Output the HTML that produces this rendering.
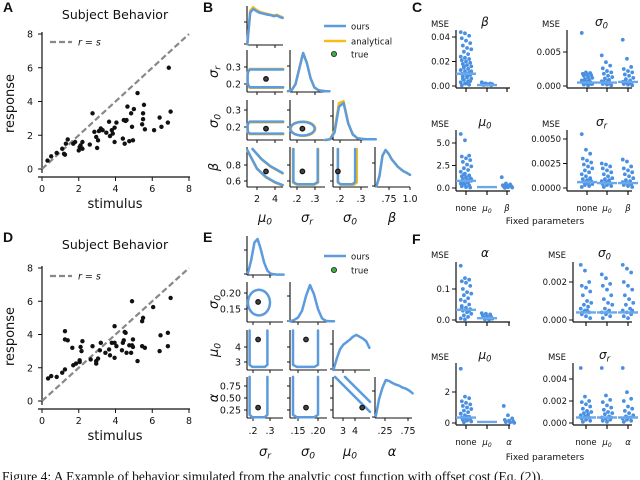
<!DOCTYPE html>
<html><head><meta charset="utf-8"><style>
html,body{margin:0;padding:0;background:#fff;width:640px;height:480px;overflow:hidden}
svg{display:block;font-family:"DejaVu Sans","Liberation Sans",sans-serif}
</style></head><body>
<svg id="fig" width="640" height="480" viewBox="0 0 640 480"></svg>
<script>
// ---------- DATA ----------
const stimA=[0.3,0.5,0.8,1.1,1.2,1.25,1.3,1.4,1.7,1.8,2.0,2.05,2.1,2.2,2.2,2.6,2.75,2.85,2.95,3.0,3.05,3.1,3.2,3.3,3.5,3.65,3.7,3.8,3.85,3.95,3.95,4.05,4.4,4.45,4.5,4.55,4.6,4.65,4.75,4.85,4.9,4.95,5.0,5.2,5.45,5.5,5.5,5.55,5.6,6.1,6.4,6.5,6.85,6.9,7.0];
const respA=[0.5,0.75,0.95,1.2,0.9,0.85,1.5,1.75,1.5,1.6,1.1,1.3,1.4,1.6,1.2,1.45,3.3,2.2,1.9,1.25,1.7,2.25,2.4,2.3,2.15,2.8,1.95,2.3,2.1,1.6,2.45,2.75,1.8,2.9,1.5,2.85,2.9,3.7,1.65,3.3,2.5,1.7,3.55,4.5,2.65,2.95,3.3,3.8,2.35,2.3,3.05,2.5,2.75,6.0,3.4];
const stimD=[0.33,0.5,0.8,1.1,1.25,1.25,1.25,1.4,1.65,1.7,1.85,2.05,2.1,2.15,2.2,2.05,2.65,2.75,2.95,2.95,3.05,3.15,3.2,3.45,3.65,3.7,3.8,3.95,3.95,3.95,4.05,4.35,4.4,4.45,4.5,4.55,4.6,4.75,4.85,4.9,4.9,4.95,4.95,5.2,5.45,5.5,5.45,5.6,6.05,6.4,6.45,6.85,6.85,7.0];
const respD=[1.36,1.5,1.45,1.7,1.9,4.2,3.7,3.65,3.2,2.15,2.25,2.45,3.25,3.0,3.6,2.35,2.5,3.3,2.25,2.4,2.55,3.05,3.5,2.9,3.1,2.75,3.5,3.5,4.5,2.6,3.3,3.05,3.5,3.65,4.15,4.1,2.9,3.35,2.9,6.0,3.35,3.7,3.25,2.4,4.8,5.0,3.3,3.2,5.65,3.0,3.95,4.1,3.3,6.2];
const scatTicks=[0,2,4,6,8];

const dMu0B=[0.02,0.9,1.0,0.95,0.9,0.88,0.86,0.84,0.83,0.8,0.82,0.78,0.75];
const dMu0Bana=[0.02,0.95,1.05,0.98,0.93,0.9,0.88,0.86,0.84,0.82,0.84,0.8,0.77];
const dSrB=[0.02,0.05,0.2,0.6,1.0,0.75,0.35,0.12,0.05,0.03,0.02,0.02];
const dS0B=[0,0.02,0.2,0.9,1.0,0.45,0.15,0.05,0.03,0.02,0.02,0.02];
const dS0Bana=[0,0.02,0.25,1.0,1.05,0.45,0.14,0.05,0.03,0.02,0.02,0.02];
const dBetaB=[0.02,0.3,0.85,1.0,0.9,0.75,0.65,0.55,0.48,0.42,0.38,0.33];
const dSrE=[0.05,0.4,0.9,1.0,0.7,0.35,0.12,0.04,0.02,0.01,0.01,0.01];
const dS0E=[0.02,0.05,0.12,0.3,0.7,1.0,0.75,0.35,0.1,0.03,0.02,0.02];
const dMu0E=[0,0.3,0.55,0.68,0.75,0.82,0.9,0.95,0.9,0.85,0.78,0.6];
const dAlE=[0.05,0.5,0.8,1.0,0.97,0.92,0.88,0.85,0.8,0.77,0.72,0.65];

const cBetaNone=[0.044,0.043,0.041,0.039,0.037,0.035,0.033,0.031,0.030,0.028,0.026,0.024,0.023,0.022,0.021,0.020,0.019,0.018,0.017,0.016,0.015,0.014,0.013,0.012,0.011,0.010,0.010,0.009,0.008,0.007,0.006,0.005,0.004,0.003,0.002,0.001,0.0005,0.002,0.004,0.006,0.008,0.012,0.016];
const cBetaMu0=[0.003,0.002,0.002,0.001,0.001,0.0005,0.0008,0.0012,0.0015,0.002];
const cBetaMed=[0.010,0.0008];
const cS0None=[0.0078,0.002,0.0019,0.0018,0.0017,0.0016,0.0015,0.0013,0.0012,0.001,0.0009,0.0008,0.0007,0.0006,0.0005,0.0004,0.0003,0.0002,0.0001,0.0003,0.0006,0.0008];
const cS0Mu0=[0.0045,0.0035,0.003,0.0026,0.0022,0.002,0.0018,0.0015,0.0013,0.0011,0.0009,0.0007,0.0005,0.0004,0.0003,0.0002,0.0001,0.0006,0.0008];
const cS0Beta=[0.0068,0.004,0.0028,0.0025,0.0022,0.002,0.0017,0.0015,0.0012,0.001,0.0008,0.0006,0.0005,0.0004,0.0003,0.0002,0.0001,0.0007];
const cS0Med=[0.0005,0.0005,0.0006];
const cMu0None=[6.0,5.3,3.6,3.5,3.3,3.1,2.9,2.6,2.4,2.2,2.0,1.8,1.6,1.4,1.3,1.2,1.1,1.0,0.9,0.8,0.7,0.6,0.5,0.4,0.3,0.2,0.1,0.05,0.5,0.8,1.0,1.5];
const cMu0Beta=[1.2,0.5,0.4,0.3,0.25,0.2,0.15,0.1,0.05,0.02];
const cMu0Med=[0.8,0.1];
const cSrNone=[0.0055,0.0039,0.0035,0.003,0.0028,0.0026,0.0024,0.0022,0.002,0.0018,0.0016,0.0014,0.0012,0.001,0.0009,0.0008,0.0007,0.0006,0.0005,0.0004,0.0003,0.0002,0.0001,0.0006,0.0009];
const cSrMu0=[0.0025,0.0024,0.0022,0.002,0.0018,0.0016,0.0014,0.0012,0.001,0.0009,0.0008,0.0007,0.0006,0.0005,0.0004,0.0003,0.0002,0.0001,0.0006];
const cSrBeta=[0.0029,0.0027,0.0022,0.002,0.0018,0.0016,0.0014,0.0012,0.001,0.0008,0.0007,0.0006,0.0005,0.0004,0.0003,0.0002,0.0001];
const cSrMed=[0.0006,0.0005,0.0005];
const fAlNone=[0.175,0.135,0.13,0.125,0.12,0.11,0.1,0.09,0.085,0.08,0.07,0.065,0.06,0.05,0.045,0.04,0.035,0.03,0.025,0.02,0.015,0.01,0.005,0.002,0.03,0.04];
const fAlMu0=[0.022,0.02,0.018,0.015,0.012,0.01,0.008,0.006,0.004,0.002,0.001];
const fAlMed=[0.033,0.006];
const fS0None=[0.0029,0.0026,0.002,0.0018,0.0017,0.0015,0.0013,0.001,0.0009,0.0008,0.0007,0.0006,0.0005,0.0004,0.0003,0.0002,0.0001,0.0004,0.0005];
const fS0Mu0=[0.0024,0.0022,0.0019,0.0018,0.0016,0.0013,0.0011,0.0009,0.0008,0.0006,0.0005,0.0004,0.0003,0.0002,0.0001,0.0004];
const fS0Al=[0.0029,0.0027,0.0025,0.002,0.0018,0.0016,0.0013,0.0011,0.0009,0.0008,0.0006,0.0005,0.0004,0.0003,0.0002,0.0001,0.0005];
const fS0Med=[0.0004,0.0004,0.0004];
const fMu0None=[3.5,1.7,1.6,1.4,1.3,1.2,1.1,1.0,0.9,0.8,0.7,0.6,0.5,0.4,0.35,0.3,0.25,0.2,0.15,0.1,0.05,0.4,0.6];
const fMu0Al=[1.1,0.5,0.3,0.2,0.15,0.1,0.06,0.03,0.01];
const fMu0Med=[0.35,0.07];
const fSrNone=[0.005,0.0024,0.002,0.0019,0.0017,0.0015,0.0013,0.0011,0.001,0.0009,0.0008,0.0007,0.0006,0.0005,0.0004,0.0003,0.0002,0.0001,0.0005];
const fSrMu0=[0.005,0.0025,0.0021,0.0019,0.0016,0.0014,0.0012,0.001,0.0009,0.0008,0.0006,0.0005,0.0004,0.0003,0.0002,0.0001,0.0005];
const fSrAl=[0.005,0.0028,0.0022,0.002,0.0015,0.0013,0.0011,0.0009,0.0007,0.0006,0.0005,0.0004,0.0003,0.0002,0.0001,0.0005];
const fSrMed=[0.0005,0.0005,0.0005];

// ---------- HELPERS ----------
const svg=document.getElementById('fig');
const NS='http://www.w3.org/2000/svg';
const BLUE='#5b9bde', YEL='#f6bd1a';
function el(tag,attrs,parent){const e=document.createElementNS(NS,tag);for(const k in attrs)e.setAttribute(k,attrs[k]);(parent||svg).appendChild(e);return e;}
function lin(d0,d1,p0,p1){return v=>p0+(v-d0)*(p1-p0)/(d1-d0);}
function txt(x,y,s,size,opts){opts=opts||{};const t=el('text',{x:x,y:y,'font-size':size,'text-anchor':opts.anchor||'middle',fill:'#111'});
 if(opts.italic)t.setAttribute('font-style','italic');if(opts.bold)t.setAttribute('font-weight','bold');if(opts.family)t.setAttribute('font-family',opts.family);
 if(opts.rot)t.setAttribute('transform','rotate(-90 '+x+' '+y+')');t.innerHTML=s;return t;}
function line(x1,y1,x2,y2,w,c){return el('line',{x1:x1,y1:y1,x2:x2,y2:y2,stroke:c||'#111','stroke-width':w||1});}
function sym(s,sub){return sub?s+'<tspan font-size="0.7em" dy="0.3em">'+sub+'</tspan>':s;}

// ---------- SCATTER PANELS ----------
function scatter(prefix,letter,top,y0,y8,xs,ys){
 const sx=lin(0,8,42,189), sy=lin(0,8,y0,y8);
 const g=el('g',{});
 
 
 const L=txt(3,top+12,letter,14,{anchor:'start',bold:true,family:'"Liberation Sans",sans-serif'});
 
 const T=txt(115,top+19,'Subject Behavior',12.5);
 
 line(42,y0+4,42,y8-2,1.2);line(38,y0+8,190,y0+8,1.2);
 scatTicks.forEach(t=>{line(38,sy(t),42,sy(t),1);txt(33,sy(t)+3.5,t,9.5,{anchor:'end'});
  line(sx(t),y0+8,sx(t),y0+12,1);txt(sx(t),y0+23,t,9.5);});
 const dl=el('line',{x1:sx(0),y1:sy(0),x2:sx(8),y2:sy(8),stroke:'#888','stroke-width':2.2,'stroke-dasharray':'6,3'});
 
 const ll=el('line',{x1:50,y1:sy(8)+8,x2:72,y2:sy(8)+8,stroke:'#888','stroke-width':2.2,'stroke-dasharray':'6,3'});
 
 txt(78,sy(8)+11.5,'<tspan font-style="italic">r</tspan> = <tspan font-style="italic">s</tspan>',9.5,{anchor:'start'});
 xs.forEach((x,i)=>{const c=el('circle',{cx:sx(x),cy:sy(ys[i]),r:2.2,fill:'#111'});
  });
 const xl=txt(115,y0+39,'stimulus',13);
 const yl=txt(14,(y0+y8)/2+2,'response',13,{rot:true});
}
scatter('a','A',0,169,34,stimA,respA);
scatter('d','D',230,401,268,stimD,respD);

// ---------- CORNER PLOTS ----------
function cellAxes(cx,cy,xt,yt,sxf,syf){
 line(cx[0],cy[0],cx[0],cy[1],1.1);line(cx[0],cy[1],cx[1],cy[1],1.1);
 xt.forEach(v=>line(sxf(v),cy[1],sxf(v),cy[1]+3,1));
 yt.forEach(v=>line(cx[0]-3,syf(v),cx[0],syf(v),1));
}
function poly(pts,sxf,syf,c,name){const p=el('polyline',{points:pts.map(q=>sxf(q[0]).toFixed(1)+','+syf(q[1]).toFixed(1)).join(' '),fill:'none',stroke:c,'stroke-width':2.5,'stroke-linejoin':'round','stroke-linecap':'round'});
 return p;}
function ellipse(cxv,cyv,rx,ry,sxf,syf,c,name){const pts=[];for(let i=0;i<=36;i++){const a=i/36*2*Math.PI;pts.push([cxv+rx*Math.cos(a),cyv+ry*Math.sin(a)]);}return poly(pts,sxf,syf,c,name);}
function density(vals,d0,d1,sxf,cy,c,name){const h=cy[1]-cy[0]-3;const pts=vals.map((v,i)=>[d0+(d1-d0)*i/(vals.length-1),v]);
 return poly(pts,sxf,v=>cy[1]-v*h,c,name);}
function dot(x,y,name){const c=el('circle',{cx:x,cy:y,r:2.3,fill:'#444',stroke:'#111','stroke-width':1.2});}
function ushape(l,r,b,t,sxf,syf,c,name){const dx=(r-l)*0.15,dy=(t-b)*0.06;return poly([[l,t],[l,b+dy],[l+dx,b],[r-dx,b],[r,b+dy],[r,t]],sxf,syf,c,name);}
function roundRect(l,r,b,t,sxf,syf,c,name){const dx=(r-l)*0.06;return poly([[r,t],[l+dx,t],[l+dx*0.2,t-(t-b)*0.15],[l,t-(t-b)*0.35],[l,b+(t-b)*0.35],[l+dx*0.2,b+(t-b)*0.15],[l+dx,b],[r,b]],sxf,syf,c,name);}

// Panel B
(function(){
 const L=txt(203,12,'B',14,{anchor:'start',bold:true,family:'"Liberation Sans",sans-serif'});
 const R=[[6,45],[50,92],[100,140],[147,187]], C=[[247,283],[290,325],[333,368],[375,410]];
 const xMu=lin(2,4,257,275), xSr=lin(0.2,0.3,297,315), xS0=lin(0.2,0.3,340,361), xBe=lin(0.75,1.0,389,410);
 const ySr=lin(0.3,0.2,67,84), yS0=lin(0.3,0.2,110,127), yBe=lin(0.8,0.6,165,181);
 const xs=[xMu,xSr,xS0,xBe], ys=[null,ySr,yS0,yBe];
 const xt=[[2,4],[0.2,0.3],[0.2,0.3],[0.75,1.0]], yt=[null,[0.2,0.3],[0.2,0.3],[0.6,0.8]];
 for(let r=0;r<4;r++)for(let c=0;c<=r;c++){
  if(r===c){cellAxes(C[c],R[r],xt[c],[],xs[c],null);line(C[c][0]-3,R[r][0]+16,C[c][0],R[r][0]+16);line(C[c][0]-3,R[r][1]-1,C[c][0],R[r][1]-1);}
  else cellAxes(C[c],R[r],xt[c],yt[r],xs[c],ys[r]);
 }
 density(dMu0Bana,0.92,4.85,xMu,R[0],YEL,'b-mu0-density-analytical');
 density(dMu0B,0.92,4.85,xMu,R[0],BLUE,'b-mu0-density-ours');
 density(dSrB,0.15,0.38,xSr,R[1],YEL,'b-sigma-r-density-analytical');
 density(dSrB,0.15,0.38,xSr,R[1],BLUE,'b-sigma-r-density-ours');
 density(dS0Bana,0.13,0.37,xS0,R[2],YEL,'b-sigma0-density-analytical');
 density(dS0B,0.13,0.37,xS0,R[2],BLUE,'b-sigma0-density-ours');
 density(dBetaB,0.6,1.0,xBe,R[3],YEL,'b-beta-density-analytical');
 density(dBetaB,0.6,1.0,xBe,R[3],BLUE,'b-beta-density-ours');
 roundRect(0.95,4.9,0.178,0.288,xMu,ySr,YEL,'b-contour-mu0-sr-analytical');
 roundRect(0.95,4.9,0.181,0.285,xMu,ySr,BLUE,'b-contour-mu0-sr');
 roundRect(0.95,4.9,0.158,0.228,xMu,yS0,YEL,'b-contour-mu0-s0-analytical');
 roundRect(0.95,4.9,0.161,0.232,xMu,yS0,BLUE,'b-contour-mu0-s0');
 ellipse(0.233,0.19,0.068,0.042,xSr,yS0,YEL,'b-contour-sr-s0-analytical');
 ellipse(0.23,0.19,0.068,0.04,xSr,yS0,BLUE,'b-contour-sr-s0');
 poly([[1.5,1.0],[2.5,0.87],[3.5,0.78],[4.85,0.695]],xMu,yBe,YEL,'b-contour-mu0-beta-upper-analytical');
 poly([[1.5,1.0],[2.5,0.875],[3.5,0.785],[4.85,0.70]],xMu,yBe,BLUE,'b-contour-mu0-beta-upper');
 poly([[0.93,0.98],[2,0.75],[3,0.645],[4,0.58],[4.85,0.545]],xMu,yBe,YEL,'b-contour-mu0-beta-lower-analytical');
 poly([[0.93,0.985],[2,0.755],[3,0.65],[4,0.585],[4.85,0.55]],xMu,yBe,BLUE,'b-contour-mu0-beta-lower');
 ushape(0.178,0.317,0.555,1.0,xSr,yBe,YEL,'b-contour-sr-beta-analytical');
 ushape(0.18,0.315,0.56,1.0,xSr,yBe,BLUE,'b-contour-sr-beta');
 ushape(0.19,0.28,0.555,1.0,xS0,yBe,YEL,'b-contour-s0-beta-analytical');
 ushape(0.19,0.272,0.56,1.0,xS0,yBe,BLUE,'b-contour-s0-beta');
 dot(xMu(3),ySr(0.23),'b-true-mu0-sr');dot(xMu(3),yS0(0.19),'b-true-mu0-s0');dot(xSr(0.23),yS0(0.19),'b-true-sr-s0');
 dot(xMu(3),yBe(0.72),'b-true-mu0-beta');dot(xSr(0.23),yBe(0.72),'b-true-sr-beta');dot(xS0(0.19),yBe(0.72),'b-true-s0-beta');
 [[2,xMu],[4,xMu]].forEach(a=>txt(a[1](a[0]),202,a[0],9.5));
 txt(xSr(0.2),202,'.2',9.5);txt(xSr(0.3),202,'.3',9.5);txt(xS0(0.2),202,'.2',9.5);txt(xS0(0.3),202,'.3',9.5);
 txt(xBe(0.75),202,'.75',9.5);txt(xBe(1.0),202,'1.0',9.5);
 txt(241,ySr(0.3)+3.5,'0.3',9.5,{anchor:'end'});txt(241,ySr(0.2)+3.5,'0.2',9.5,{anchor:'end'});
 txt(241,yS0(0.3)+3.5,'0.3',9.5,{anchor:'end'});txt(241,yS0(0.2)+3.5,'0.2',9.5,{anchor:'end'});
 txt(241,yBe(0.8)+3.5,'0.8',9.5,{anchor:'end'});txt(241,yBe(0.6)+3.5,'0.6',9.5,{anchor:'end'});
 txt(265,222,sym('μ','0'),13,{italic:true});txt(307,222,sym('σ','r'),13,{italic:true});txt(350,222,sym('σ','0'),13,{italic:true});txt(392,222,'β',13,{italic:true});
 txt(218,72,sym('σ','r'),13,{italic:true,rot:true});txt(218,121,sym('σ','0'),13,{italic:true,rot:true});txt(218,167,'β',13,{italic:true,rot:true});
 const lg=el('g',{});
 line(324,26,346,26,2.4,BLUE);txt(351,29.5,'ours',8.5,{anchor:'start'});
 line(324,41,346,41,2.4,YEL);txt(351,44.5,'analytical',8.5,{anchor:'start'});
 el('circle',{cx:334,cy:54,r:2.6,fill:'#3cb043',stroke:'#222','stroke-width':0.8});txt(351,57.5,'true',8.5,{anchor:'start'});
})();

// Panel E
(function(){
 const L=txt(203,242,'E',14,{anchor:'start',bold:true,family:'"Liberation Sans",sans-serif'});
 const R=[[236,275],[282,322],[330,370],[377,418]], C=[[247,283],[290,327],[333,370],[375,412]];
 const xSr=lin(0.2,0.3,253,270), xS0=lin(0.15,0.2,298,318), xMu=lin(3,4,343,355), xAl=lin(0.25,0.75,385,408);
 const yS0=lin(0.2,0.15,293,309), yMu=lin(4,3,347,362), yAl=lin(0.75,0.25,386,410);
 const xs=[xSr,xS0,xMu,xAl], ys=[null,yS0,yMu,yAl];
 const xt=[[0.2,0.3],[0.15,0.2],[3,4],[0.25,0.75]], yt=[null,[0.15,0.2],[3,4],[0.25,0.5,0.75]];
 for(let r=0;r<4;r++)for(let c=0;c<=r;c++){
  if(r===c){cellAxes(C[c],R[r],xt[c],[],xs[c],null);line(C[c][0]-3,R[r][0]+14,C[c][0],R[r][0]+14);line(C[c][0]-3,R[r][1]-1,C[c][0],R[r][1]-1);}
  else cellAxes(C[c],R[r],xt[c],yt[r],xs[c],ys[r]);
 }
 density(dSrE,0.17,0.38,xSr,R[0],BLUE,'e-sigma-r-density');
 density(dS0E,0.13,0.24,xS0,R[1],BLUE,'e-sigma0-density');
 density(dMu0E,2.2,5.2,xMu,R[2],BLUE,'e-mu0-density');
 density(dAlE,0.05,0.85,xAl,R[3],BLUE,'e-alpha-density');
 ellipse(0.235,0.17,0.065,0.04,xSr,yS0,BLUE,'e-contour-sr-s0');
 ushape(0.18,0.285,2.67,5.1,xSr,yMu,BLUE,'e-contour-sr-mu0');
 ushape(0.1375,0.2,2.67,5.1,xS0,yMu,BLUE,'e-contour-s0-mu0');
 ushape(0.18,0.285,0.1,0.94,xSr,yAl,BLUE,'e-contour-sr-alpha');
 ushape(0.1375,0.2,0.1,0.94,xS0,yAl,BLUE,'e-contour-s0-alpha');
 poly([[2.33,0.94],[5.25,0.21]],xMu,yAl,BLUE,'e-contour-mu0-alpha-lower');
 poly([[3.17,0.94],[5.25,0.42]],xMu,yAl,BLUE,'e-contour-mu0-alpha-upper');
 dot(xSr(0.23),yS0(0.172),'e-true-sr-s0');dot(xSr(0.23),yMu(4.5),'e-true-sr-mu0');dot(xS0(0.17),yMu(4.5),'e-true-s0-mu0');
 dot(xSr(0.23),yAl(0.3),'e-true-sr-alpha');dot(xS0(0.17),yAl(0.3),'e-true-s0-alpha');dot(xMu(4.6),yAl(0.3),'e-true-mu0-alpha');
 txt(xSr(0.2),434,'.2',9.5);txt(xSr(0.3),434,'.3',9.5);txt(xS0(0.15),434,'.15',9.5);txt(xS0(0.2),434,'.20',9.5);
 txt(xMu(3),434,'3',9.5);txt(xMu(4),434,'4',9.5);txt(xAl(0.25),434,'.25',9.5);txt(xAl(0.75),434,'.75',9.5);
 txt(241,yS0(0.2)+3.5,'0.20',9.5,{anchor:'end'});txt(241,yS0(0.15)+3.5,'0.15',9.5,{anchor:'end'});
 txt(241,yMu(4)+3.5,'4',9.5,{anchor:'end'});txt(241,yMu(3)+3.5,'3',9.5,{anchor:'end'});
 txt(241,yAl(0.75)+3.5,'0.75',9.5,{anchor:'end'});txt(241,yAl(0.5)+3.5,'0.50',9.5,{anchor:'end'});txt(241,yAl(0.25)+3.5,'0.25',9.5,{anchor:'end'});
 txt(265,456,sym('σ','r'),13,{italic:true});txt(308,456,sym('σ','0'),13,{italic:true});txt(350,456,sym('μ','0'),13,{italic:true});txt(392,456,'α',13,{italic:true});
 txt(218,302,sym('σ','0'),13,{italic:true,rot:true});txt(218,350,sym('μ','0'),13,{italic:true,rot:true});txt(218,398,'α',13,{italic:true,rot:true});
 line(324,256,346,256,2.4,BLUE);txt(351,259.5,'ours',8.5,{anchor:'start'});
 el('circle',{cx:334,cy:270,r:2.6,fill:'#3cb043',stroke:'#222','stroke-width':0.8});txt(351,273.5,'true',8.5,{anchor:'start'});
})();

// ---------- STRIP PLOTS ----------
function strip(o){
 const sy=lin(o.t0,o.t1,o.p0,o.p1);
 line(o.sx,o.top,o.sx,o.bot,1.2);line(o.sx,o.bot,o.right,o.bot,1.2);
 o.ticks.forEach((t,i)=>{line(o.sx-4,sy(t),o.sx,sy(t),1);txt(o.sx-6,sy(t)+3,o.tl[i],8.5,{anchor:'end'});});
 o.cats.forEach(cx=>line(cx,o.bot,cx,o.bot+4,1.2));
 o.series.forEach((vals,k)=>{vals.forEach((v,i)=>{const j=((i*37)%11-5)*1.05;
  const c=el('circle',{cx:o.cats[k]+j,cy:sy(v),r:1.9,fill:'#4a90e2'});
  
  });});
 o.med.forEach((m,k)=>{const l=line(o.cats[k]-10,sy(m),o.cats[k]+10,sy(m),2.4,'#6aa8ea');
  });
 txt(o.sx-16,o.mseY,'MSE',8.5);
 txt((o.sx+o.right)/2+2,o.mseY-1,o.title,12,{italic:true});
 if(o.catLabels){o.catLabels.forEach((s,k)=>txt(o.cats[k],o.bot+20,s,8.5,{italic:k>0}));}
}
const lab1=['none',sym('μ','0'),'β'], lab2=['none',sym('μ','0'),'α'];
strip({name:'c-beta',sx:456,top:30,bot:88,right:510,cats:[466,487,507],t0:0,t1:0.04,p0:86,p1:37,ticks:[0,0.02,0.04],tl:['0.00','0.02','0.04'],series:[cBetaNone,cBetaMu0,[]],med:cBetaMed,title:'β',mseY:27});
strip({name:'c-sigma0',sx:567,top:30,bot:88,right:632,cats:[587,607,628],t0:0,t1:0.005,p0:86,p1:52,ticks:[0,0.005],tl:['0.000','0.005'],series:[cS0None,cS0Mu0,cS0Beta],med:cS0Med,title:sym('σ','0'),mseY:27});
strip({name:'c-mu0',sx:456,top:130,bot:191,right:510,cats:[466,487,507],t0:0,t1:5,p0:188,p1:143,ticks:[0,2.5,5],tl:['0.0','2.5','5.0'],series:[cMu0None,[],cMu0Beta],med:cMu0Med,title:sym('μ','0'),mseY:127,catLabels:lab1});
strip({name:'c-sigma-r',sx:567,top:130,bot:191,right:632,cats:[587,607,628],t0:0,t1:0.005,p0:188,p1:139,ticks:[0,0.0025,0.005],tl:['0.0000','0.0025','0.0050'],series:[cSrNone,cSrMu0,cSrBeta],med:cSrMed,title:sym('σ','r'),mseY:127,catLabels:lab1});
txt(545,224,'Fixed parameters',9);
const LC=txt(412,12,'C',14,{anchor:'start',bold:true,family:'"Liberation Sans",sans-serif'});
strip({name:'f-alpha',sx:456,top:262,bot:322,right:510,cats:[466,487,509],t0:0,t1:0.1,p0:320,p1:289,ticks:[0,0.1],tl:['0.0','0.1'],series:[fAlNone,fAlMu0,[]],med:fAlMed,title:'α',mseY:258});
strip({name:'f-sigma0',sx:573,top:262,bot:322,right:632,cats:[586,607,628],t0:0,t1:0.002,p0:320,p1:282,ticks:[0,0.002],tl:['0.000','0.002'],series:[fS0None,fS0Mu0,fS0Al],med:fS0Med,title:sym('σ','0'),mseY:258});
strip({name:'f-mu0',sx:456,top:363,bot:425,right:510,cats:[466,487,509],t0:0,t1:2,p0:423,p1:392,ticks:[0,2],tl:['0','2'],series:[fMu0None,[],fMu0Al],med:fMu0Med,title:sym('μ','0'),mseY:360,catLabels:lab2});
strip({name:'f-sigma-r',sx:573,top:363,bot:425,right:632,cats:[586,607,628],t0:0,t1:0.004,p0:423,p1:379,ticks:[0,0.002,0.004],tl:['0.000','0.002','0.004'],series:[fSrNone,fSrMu0,fSrAl],med:fSrMed,title:sym('σ','r'),mseY:360,catLabels:lab2});
txt(545,460,'Fixed parameters',9);
const LF=txt(412,244,'F',14,{anchor:'start',bold:true,family:'"Liberation Sans",sans-serif'});

const cap=txt(2,481,'Figure 4: A Example of behavior simulated from the analytic cost function with offset cost (Eq. (2)).',13.5,{anchor:'start',family:'"Liberation Serif",serif'});

</script>
</body></html>
